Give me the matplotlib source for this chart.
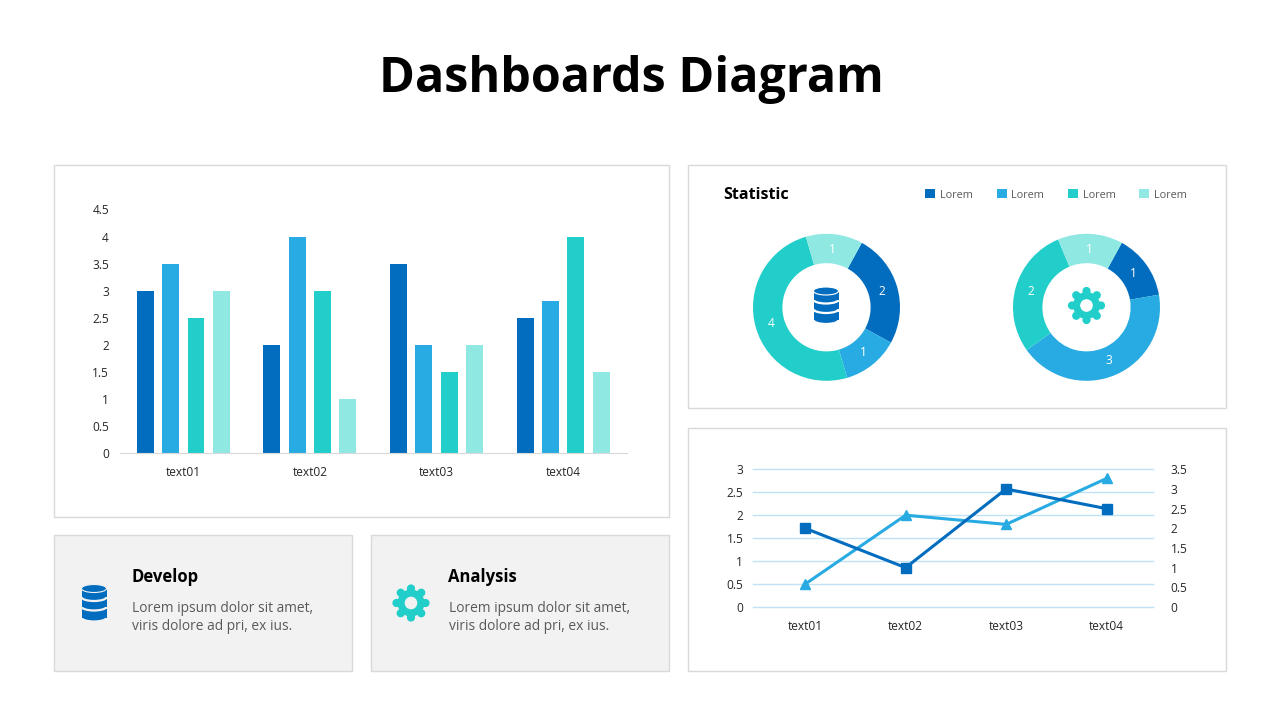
import numpy as np
import matplotlib
matplotlib.use("Agg")
import matplotlib.pyplot as plt
from matplotlib.patches import Rectangle, Circle, Ellipse

plt.rcParams['font.family'] = ['Open Sans', 'DejaVu Sans']

categories = ["text01", "text02", "text03", "text04"]
bar_a = [3, 2, 3.5, 2.5]
bar_b = [3.5, 4, 2, 2.8]
bar_c = [2.5, 3, 1.5, 4]
bar_d = [3, 1, 2, 1.5]
bar_ticks = [0, 0.5, 1, 1.5, 2, 2.5, 3, 3.5, 4, 4.5]

donut_left = [2, 1, 4, 1]
donut_right = [1, 3, 2, 1]

line_right = [2, 1, 3, 2.5]
line_left = [0.5, 2, 1.8, 2.8]
left_ticks = [0, 0.5, 1, 1.5, 2, 2.5, 3]
right_ticks = [0, 0.5, 1, 1.5, 2, 2.5, 3, 3.5]

DARK = "#026DBF"
BLUE = "#27ABE2"
TEAL = "#22CEC9"
PALE = "#90E8E3"
colors = [DARK, BLUE, TEAL, PALE]
TICK = "#262626"
GREY = "#595959"
BORDER = "#D9D9D9"
CARD = "#F2F2F2"


def tick_label(v):
    return f"{v:g}"


def box_axes(fig, x0, y0, x1, y1):
    # pixel box, y measured from the top of the picture
    return fig.add_axes([x0 / 1280, 1 - y1 / 720, (x1 - x0) / 1280, (y1 - y0) / 720])


def draw_db(ax, cx, cy, bg):
    w = 25
    h = 8
    # discs from the bottom up, each one edged so a curved gap shows below it
    for bottom, top in [(cy + 14.5, cy + 6), (cy + 3.5, cy - 4), (cy - 6, cy - 14.5)]:
        ax.add_patch(Ellipse((cx, bottom), w, h, fc=DARK, ec=bg, lw=1.6))
        ax.add_patch(Rectangle((cx - w / 2, top), w, bottom - top, fc=DARK, ec="none"))
    ax.add_patch(Ellipse((cx, cy - 14.5), w, h, fc=DARK, ec=bg, lw=0.8))


def draw_gear(ax, cx, cy, bg):
    for a in np.arange(8) * np.pi / 4:
        ax.add_patch(Circle((cx + 14.5 * np.cos(a), cy + 14.5 * np.sin(a)), 4.1, fc=TEAL, ec="none"))
    ax.add_patch(Circle((cx, cy), 13.5, fc=TEAL, ec="none"))
    ax.add_patch(Circle((cx, cy), 6.3, fc=bg, ec="none"))


fig = plt.figure(figsize=(12.8, 7.2), dpi=100, facecolor="white")

# page layer: panels, headings, icons
page = fig.add_axes([0, 0, 1, 1])
page.set_xlim(0, 1280)
page.set_ylim(720, 0)
page.axis("off")

for x0, y0, x1, y1, fc in [(53.5, 164.5, 668.5, 516.5, "white"),
                           (687.5, 164.5, 1225.5, 407.5, "white"),
                           (687.5, 427.5, 1225.5, 670.5, "white"),
                           (53.5, 534.5, 351.5, 670.5, CARD),
                           (370.5, 534.5, 668.5, 670.5, CARD)]:
    page.add_patch(Rectangle((x0, y0), x1 - x0, y1 - y0, fc=fc, ec=BORDER, lw=1))

page.text(631, 79.5, "Dashboards Diagram", ha="center", va="center", fontsize=34.9, fontweight="bold", color="black")
page.text(723, 195, "Statistic", ha="left", va="center", fontsize=11.6, fontweight="bold", color="black")

for x, col in zip([925, 996.5, 1068, 1139], colors):
    page.add_patch(Rectangle((x, 189), 10, 9, fc=col, ec="none"))
    page.text(x + 15, 195, "Lorem", ha="left", va="center", fontsize=7.8, color=GREY)

for x, head in [(131.5, "Develop"), (448.5, "Analysis")]:
    page.text(x, 577, head, ha="left", va="center", fontsize=12, fontweight="bold", color="black")
for x in [132, 449]:
    page.text(x, 608, "Lorem ipsum dolor sit amet,", ha="left", va="center", fontsize=9.9, color=GREY)
    page.text(x, 627, "viris dolore ad pri, ex ius.", ha="left", va="center", fontsize=9.9, color=GREY)

draw_db(page, 94, 603, CARD)
draw_gear(page, 411, 603, CARD)
draw_db(page, 826, 305.5, "white")
draw_gear(page, 1086.5, 305.5, "white")

# bar chart
ax = box_axes(fig, 120, 209.5, 626.6, 453)
ax.patch.set_alpha(0)
ind = np.arange(len(categories))
step = 0.2
width = 0.134
for i, (vals, col) in enumerate(zip([bar_a, bar_b, bar_c, bar_d], colors)):
    ax.bar(ind + (i - 1.5) * step, vals, width, color=col)
ax.set_xlim(-0.5, 3.5)
ax.set_ylim(0, 4.5)
ax.set_xticks(ind, categories)
ax.set_yticks(bar_ticks, [tick_label(v) for v in bar_ticks])
ax.tick_params(length=0, labelsize=8.6, labelcolor=TICK)
ax.tick_params(axis="x", pad=9.5)
ax.tick_params(axis="y", pad=8)
for s in ["top", "left", "right"]:
    ax.spines[s].set_visible(False)
ax.spines["bottom"].set_color(BORDER)

# donuts
for cx, vals in [(826.5, donut_left), (1086.5, donut_right)]:
    ax = box_axes(fig, cx - 73.5, 307.3 - 73.5, cx + 73.5, 307.3 + 73.5)
    ax.patch.set_alpha(0)
    wedges, texts = ax.pie(vals, colors=colors, labels=vals, startangle=61.3, counterclock=False,
                           radius=1, labeldistance=0.79, wedgeprops=dict(width=0.4),
                           textprops=dict(color="white", fontsize=8.6))
    for t in texts:
        t.set_ha("center")
        t.set_va("center")
    ax.set_xlim(-1, 1)
    ax.set_ylim(-1, 1)

# line chart with two y axes
ax = box_axes(fig, 753, 469.3, 1152.7, 607)
ax.patch.set_alpha(0)
ax.plot(ind, line_left, color=BLUE, lw=2.2, marker="^", ms=7.5, zorder=3, clip_on=False)
ax.set_xlim(-0.52, 3.46)
ax.set_ylim(0, 3)
ax.set_xticks(ind, categories)
ax.set_yticks(left_ticks, [tick_label(v) for v in left_ticks])
ax.grid(axis="y", color="#BFE3F5", lw=1, clip_on=False)
ax.set_axisbelow(True)
ax.tick_params(length=0, labelsize=8.6, labelcolor=TICK)
ax.tick_params(axis="x", pad=9)
ax.tick_params(axis="y", pad=7)
ax2 = ax.twinx()
ax2.plot(ind, line_right, color=DARK, lw=2.2, marker="s", ms=7.5, zorder=3, clip_on=False)
ax2.set_ylim(0, 3.5)
ax2.set_yticks(right_ticks, [tick_label(v) for v in right_ticks])
ax2.tick_params(length=0, labelsize=8.6, labelcolor=TICK, pad=13)
for a in [ax, ax2]:
    for s in a.spines.values():
        s.set_visible(False)

fig.savefig("out.png", dpi=100)
